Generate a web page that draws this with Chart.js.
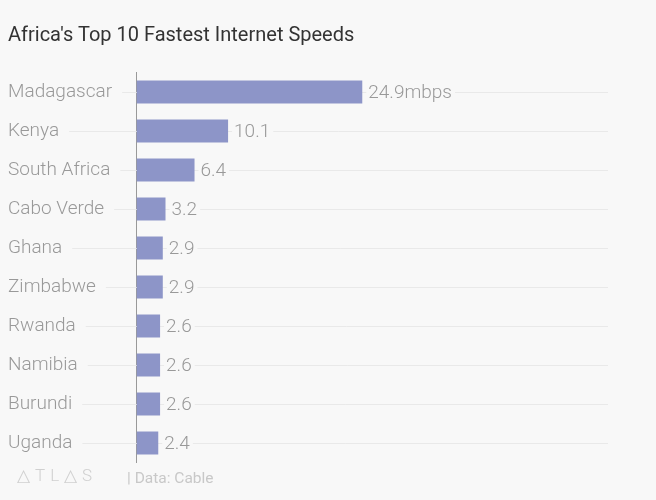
<!DOCTYPE html>
<html>
<head>
<meta charset="utf-8">
<script src="https://cdn.jsdelivr.net/npm/chart.js@4"></script>
<style>
  html, body { margin: 0; padding: 0; background: #f8f8f8; }
  #wrap { position: relative; width: 656px; height: 500px; overflow: hidden; }
  #chart { position: absolute; left: 0; top: 0; }
  .title { position: absolute; left: 8px; top: 22px; font: 400 20px Roboto, sans-serif; color: #333; white-space: nowrap; }
  .logo { position: absolute; left: 17px; top: 465px; font: 300 17px Roboto, sans-serif; color: #d0d0d0; letter-spacing: 5px; }
  .source { position: absolute; left: 127px; top: 469px; font: 400 15.5px Roboto, sans-serif; color: #c8c8c8; }
</style>
</head>
<body>
<div id="wrap">
  <canvas id="chart" width="656" height="500"></canvas>
  <div class="title">Africa's Top 10 Fastest Internet Speeds</div>
  <div class="logo">&#9651;TL&#9651;S</div>
  <div class="source">| Data: Cable</div>
</div>
<script>
  const countries = ['Madagascar', 'Kenya', 'South Africa', 'Cabo Verde', 'Ghana', 'Zimbabwe', 'Rwanda', 'Namibia', 'Burundi', 'Uganda'];
  const speeds = [24.9, 10.1, 6.4, 3.2, 2.9, 2.9, 2.6, 2.6, 2.6, 2.4];
  const valueLabels = ['24.9mbps', '10.1', '6.4', '3.2', '2.9', '2.9', '2.6', '2.6', '2.6', '2.4'];

  const BG = '#f8f8f8';
  const LABEL_FONT = '300 19px Roboto, sans-serif';

  // grid lines behind everything, leaving a gap after the country name
  const rowLines = {
    id: 'rowLines',
    beforeDatasetsDraw(chart) {
      const { ctx, chartArea, scales } = chart;
      const y = scales.y;
      ctx.save();
      ctx.font = LABEL_FONT;
      ctx.strokeStyle = '#e9e9e9';
      ctx.lineWidth = 1;
      countries.forEach((c, i) => {
        const py = Math.round(y.getPixelForValue(i)) + 0.5;
        const x0 = y.left + ctx.measureText(c).width + 10;
        ctx.beginPath();
        ctx.moveTo(x0, py);
        ctx.lineTo(chartArea.right, py);
        ctx.stroke();
      });
      ctx.restore();
    },
    afterDatasetsDraw(chart) {
      const { ctx } = chart;
      const meta = chart.getDatasetMeta(0);
      ctx.save();
      ctx.font = LABEL_FONT;
      ctx.textBaseline = 'middle';
      meta.data.forEach((bar, i) => {
        const txt = valueLabels[i];
        const w = ctx.measureText(txt).width;
        const x = bar.x + 6;
        ctx.fillStyle = BG;
        ctx.fillRect(x - 2, bar.y - 10, w + 5, 20);
        ctx.fillStyle = '#999';
        ctx.fillText(txt, x, bar.y + 1);
      });
      ctx.restore();
    }
  };

  new Chart(document.getElementById('chart'), {
    type: 'bar',
    data: {
      labels: countries,
      datasets: [{
        data: speeds,
        backgroundColor: '#8d95c8',
        categoryPercentage: 1,
        barPercentage: 0.59
      }]
    },
    options: {
      indexAxis: 'y',
      responsive: false,
      animation: false,
      layout: { padding: { left: 8, right: 48, top: 72.5, bottom: 37.5 } },
      plugins: {
        legend: { display: false },
        tooltip: { enabled: false }
      },
      scales: {
        x: { display: false, min: 0, max: 52 },
        y: {
          grid: { display: false, drawTicks: false },
          border: { display: true, color: '#999', width: 1 },
          ticks: {
            crossAlign: 'far',
            color: '#999',
            font: { family: 'Roboto, sans-serif', size: 19, weight: 300 }
          },
          afterFit(scale) { scale.width = 128.5; }
        }
      }
    },
    plugins: [rowLines]
  });
</script>
</body>
</html>
